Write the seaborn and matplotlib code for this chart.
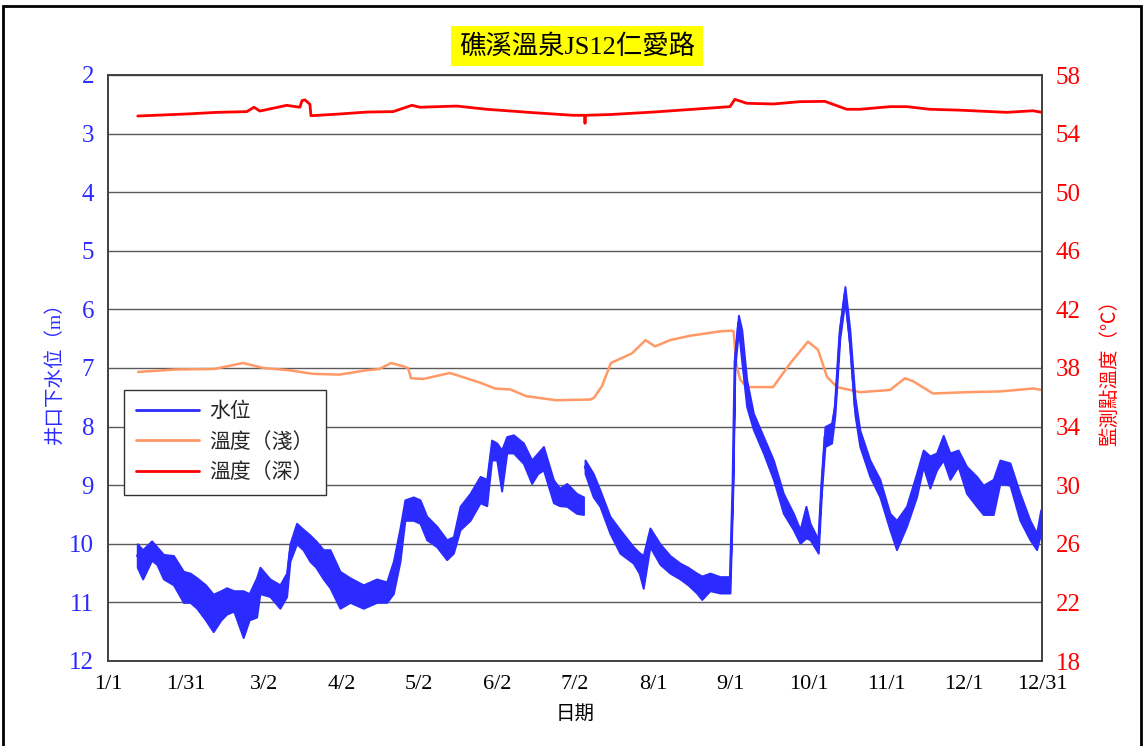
import numpy as np
import pandas as pd
import matplotlib
matplotlib.use("Agg")
import matplotlib.pyplot as plt
from matplotlib.patches import Rectangle
from matplotlib.lines import Line2D
import seaborn as sns

# ---------------- data ----------------
tick_days = [0, 30.33, 60.67, 91, 121.33, 151.67, 182, 212.33, 242.67, 273, 303.33, 333.67, 364]
tick_labels = ["1/1", "1/31", "3/2", "4/2", "5/2", "6/2", "7/2", "8/1", "9/1", "10/1", "11/1", "12/1", "12/31"]

# water level below well head (m): upper / lower envelope of the daily oscillation
wl1_day = [11.4, 13.5, 17, 19, 21.6, 25.5, 29.4, 32, 34.6, 38, 41, 44, 46.2, 49, 52.7, 55, 57.9, 59.2,
           63.1, 67, 69.6, 70.9, 73.5, 76, 78.7, 81, 83.9, 86.5, 90.4, 94.3, 99.5, 104.7, 108.6, 111.2,
           113.8, 115.7, 119, 121.6, 124.2, 128.1, 132, 134.6, 137.2, 141.1, 145, 147.6, 149.5, 151.5,
           153.4, 155.4, 158, 161.9, 165.1, 167.5, 169.7, 173.6, 176, 178.8, 182.6, 185.3]
wl1_top = [10.0, 10.1, 9.95, 10.05, 10.18, 10.2, 10.47, 10.5, 10.58, 10.7, 10.86, 10.8, 10.75, 10.8, 10.8,
           10.85, 10.58, 10.4, 10.6, 10.7, 10.5, 10.0, 9.65, 9.75, 9.85, 9.95, 10.1, 10.1, 10.47, 10.58,
           10.7, 10.6, 10.65, 10.3, 9.73, 9.25, 9.2, 9.25, 9.53, 9.7, 9.93, 9.88, 9.36, 9.14, 8.85, 8.9,
           8.23, 8.28, 8.4, 8.17, 8.14, 8.28, 8.57, 8.45, 8.34, 8.91, 9.05, 8.97, 9.14, 9.2]
wl1_bot = [10.4, 10.6, 10.28, 10.35, 10.6, 10.7, 11.0, 11.0, 11.1, 11.3, 11.5, 11.3, 11.2, 11.15, 11.6,
           11.3, 11.25, 10.85, 10.9, 11.1, 10.9, 10.3, 10.0, 10.1, 10.3, 10.4, 10.6, 10.75, 11.1, 11.0,
           11.1, 11.0, 11.0, 10.85, 10.3, 9.6, 9.6, 9.65, 9.93, 10.05, 10.27, 10.16, 9.76, 9.6, 9.3, 9.35,
           8.57, 8.57, 9.1, 8.45, 8.45, 8.63, 8.97, 8.8, 8.74, 9.3, 9.35, 9.36, 9.48, 9.5]

wl2_day = [185.9, 189.1, 191.7, 195.6, 199.5, 204.7, 207, 208.6, 211.2, 215.1, 219, 222.9, 226, 229.4,
           231.4, 234.6, 238.5, 242.4, 243.5, 244.3, 245.7, 247, 248.9, 251.5, 255.4, 259.3, 263.2,
           267.1, 269.7, 272, 273.6, 276.8, 278.1, 279.4, 282, 283.3, 285.2, 287.2, 289.1, 291.1, 293,
           296.9, 300.8, 304.7, 307.3, 311.2, 315.1, 317.7, 320.3, 322.9, 325.5, 328.1, 331.3, 334.6,
           338.5, 341.1, 345, 347.6, 351.5, 355.4, 359.3, 361.9, 363.5]
wl2_top = [8.57, 8.8, 9.08, 9.53, 9.76, 10.05, 10.15, 10.2, 9.73, 10.0, 10.2, 10.33, 10.4, 10.5, 10.55,
           10.5, 10.56, 10.56, 8.9, 6.8, 6.1, 6.35, 7.2, 7.77, 8.17, 8.57, 9.14, 9.48, 9.76, 9.36, 9.65,
           9.93, 8.9, 8.0, 7.94, 7.6, 6.3, 5.61, 6.35, 7.5, 8.06, 8.57, 8.9, 9.48, 9.6, 9.36, 8.8, 8.4,
           8.5, 8.45, 8.15, 8.45, 8.4, 8.68, 8.85, 9.0, 8.9, 8.57, 8.62, 9.14, 9.6, 9.82, 9.42]
wl2_bot = [8.8, 9.2, 9.36, 9.82, 10.16, 10.33, 10.5, 10.76, 10.05, 10.35, 10.5, 10.6, 10.7, 10.84, 10.95,
           10.8, 10.84, 10.84, 9.1, 7.0, 6.35, 6.9, 7.66, 8.05, 8.45, 8.9, 9.48, 9.76, 9.99, 9.9, 9.93,
           10.16, 9.1, 8.34, 8.28, 7.8, 6.5, 5.85, 6.64, 7.8, 8.34, 8.85, 9.2, 9.76, 10.1, 9.7, 9.2, 8.68,
           9.05, 8.74, 8.57, 8.9, 8.68, 9.14, 9.36, 9.5, 9.5, 8.97, 9.0, 9.6, 9.93, 10.1, 9.82]

# shallow temperature (°C)
ts_day = [11.7, 26.5, 41.3, 52.6, 60.6, 70.9, 79.9, 90.2, 100.5, 105.8, 110.3, 115.4, 116.9, 118.1, 122.8,
          133.3, 145.0, 150.8, 156.9, 162.9, 174.6, 188.0, 189.4, 192.5, 196.0, 204.2, 209.5, 213.2, 219.0,
          226.8, 238.5, 243.2, 243.8, 244.8, 246.4, 249.0, 259.2, 265.8, 272.8, 276.7, 280.2, 284.1, 293.1,
          304.8, 310.6, 313.7, 321.5, 334.8, 347.6, 360.5, 364]
ts_val = [37.73, 37.9, 37.93, 38.34, 38.0, 37.84, 37.6, 37.55, 37.84, 37.93, 38.34, 38.1, 38.0, 37.3, 37.25,
          37.66, 37.0, 36.6, 36.53, 36.08, 35.8, 35.85, 35.97, 36.76, 38.34, 39.0, 39.9, 39.47, 39.9,
          40.2, 40.5, 40.55, 40.5, 38.3, 37.2, 36.7, 36.7, 38.3, 39.8, 39.25, 37.4, 36.7, 36.35,
          36.5, 37.3, 37.1, 36.26, 36.35, 36.4, 36.6, 36.5]

# deep temperature (°C)
td_day = [11.6, 30.7, 42.4, 54.1, 56.9, 59.2, 64.3, 69.6, 74.8, 75.6, 76.8, 78.7, 79.1, 90.4, 100.8, 111.1,
          118.4, 121.6, 135.9, 147.6, 165.6, 181.2, 185.7, 185.9, 186.1, 195.6, 212.4, 228.0, 242.4, 244.3,
          248.9, 259.2, 269.7, 279.4, 287.9, 293.1, 304.8, 311.3, 320.3, 332.0, 350.2, 360.5, 363.9]
td_val = [55.2, 55.34, 55.45, 55.5, 55.8, 55.54, 55.73, 55.93, 55.8, 56.25, 56.3, 56.0, 55.22, 55.34, 55.47,
          55.5, 55.93, 55.8, 55.88, 55.66, 55.43, 55.25, 55.25, 54.7, 55.25, 55.3, 55.47, 55.66, 55.84,
          56.34, 56.07, 56.02, 56.18, 56.2, 55.66, 55.66, 55.84, 55.84, 55.66, 55.6, 55.45, 55.56, 55.45]

left_ticks = list(range(2, 13))
right_ticks = list(range(18, 59, 4))

BLUE = "#2B2BFF"
ORANGE = "#FF9966"
RED = "#FF0000"

# ---------------- figure ----------------
sns.set_theme(style="white")
plt.rcParams["font.family"] = ["Liberation Serif", "Noto Sans CJK TC", "DejaVu Sans"]

fig = plt.figure(figsize=(11.44, 7.46), dpi=100)
ax = fig.add_axes([108 / 1144, 1 - 661 / 746, 934 / 1144, 586 / 746])
ax2 = ax.twinx()

# temperatures on right axis
ax2.set_ylim(18, 58)
df_ts = pd.DataFrame({"day": ts_day, "t": ts_val})
df_td = pd.DataFrame({"day": td_day, "t": td_val})
sns.lineplot(data=df_ts, x="day", y="t", ax=ax2, color=ORANGE, linewidth=1.8, estimator=None)
sns.lineplot(data=df_td, x="day", y="t", ax=ax2, color=RED, linewidth=2.0, estimator=None)

# water level on left axis (band = daily range)
for d, top, bot in [(wl1_day, wl1_top, wl1_bot), (wl2_day, wl2_top, wl2_bot)]:
    df = pd.DataFrame({"day": d + d, "level": top + bot})
    sns.lineplot(data=df, x="day", y="level", ax=ax, color=BLUE, linewidth=1.8,
                 estimator="mean", errorbar=("pi", 100),
                 err_kws={"alpha": 1.0, "linewidth": 1.4, "edgecolor": BLUE, "facecolor": BLUE})

ax.set_ylim(12, 2)
ax.set_xlim(0, 364)
ax.set_zorder(ax2.get_zorder() + 1)
ax.patch.set_visible(False)

# grid on the right axis (drawn under the lines)
ax2.set_yticks(right_ticks)
ax2.set_xticks(tick_days)
ax2.grid(True, axis="y", color="#5a5a5a", linewidth=1.0)
ax2.grid(True, axis="x", color="#d9d9d9", linewidth=1.0)
ax2.set_axisbelow(True)
ax.grid(False)

ax.set_yticks(left_ticks)
ax.set_yticklabels([str(v) for v in left_ticks], color=BLUE, fontsize=18)
ax2.set_yticklabels([str(v) for v in right_ticks], color=RED, fontsize=18)
ax.set_xticks(tick_days)
ax.set_xticklabels(tick_labels, fontsize=16, color="black")
ax.tick_params(axis="both", length=0, pad=10)
ax2.tick_params(axis="both", length=0, pad=10)

ax.set_xlabel("日期", fontsize=14, color="black", labelpad=8)
ax.set_ylabel("井口下水位（m）", fontsize=14, color=BLUE, labelpad=4)
ax2.set_ylabel("監測點溫度（℃）", fontsize=14, color=RED, labelpad=14)

for a in (ax, ax2):
    for s in a.spines.values():
        s.set_color("#404040")
        s.set_linewidth(1.2)

# legend
handles = [Line2D([], [], color=BLUE, lw=2), Line2D([], [], color=ORANGE, lw=2), Line2D([], [], color=RED, lw=2)]
leg = ax.legend(handles, ["水位", "溫度（淺）", "溫度（深）"], loc="upper left",
                bbox_to_anchor=(0.017, 0.462), frameon=True, fancybox=False, framealpha=1,
                edgecolor="#333333", fontsize=15, handlelength=3.0, borderpad=0.6,
                labelspacing=0.5, handletextpad=0.5, borderaxespad=0)
leg.get_frame().set_linewidth(1.0)
leg.set_zorder(20)

# title in yellow box
fig.text(577 / 1144, 1 - 46 / 746, "礁溪溫泉JS12仁愛路", ha="center", va="center", fontsize=19,
         color="black", bbox=dict(boxstyle="square,pad=0.3", facecolor="#FFFF00", edgecolor="none"))

# outer frame
fig.patches.append(Rectangle((0.0026, -0.01), 0.9948, 1.002, transform=fig.transFigure,
                             fill=False, edgecolor="black", linewidth=2))

fig.savefig("out.png", dpi=100, facecolor="white")
